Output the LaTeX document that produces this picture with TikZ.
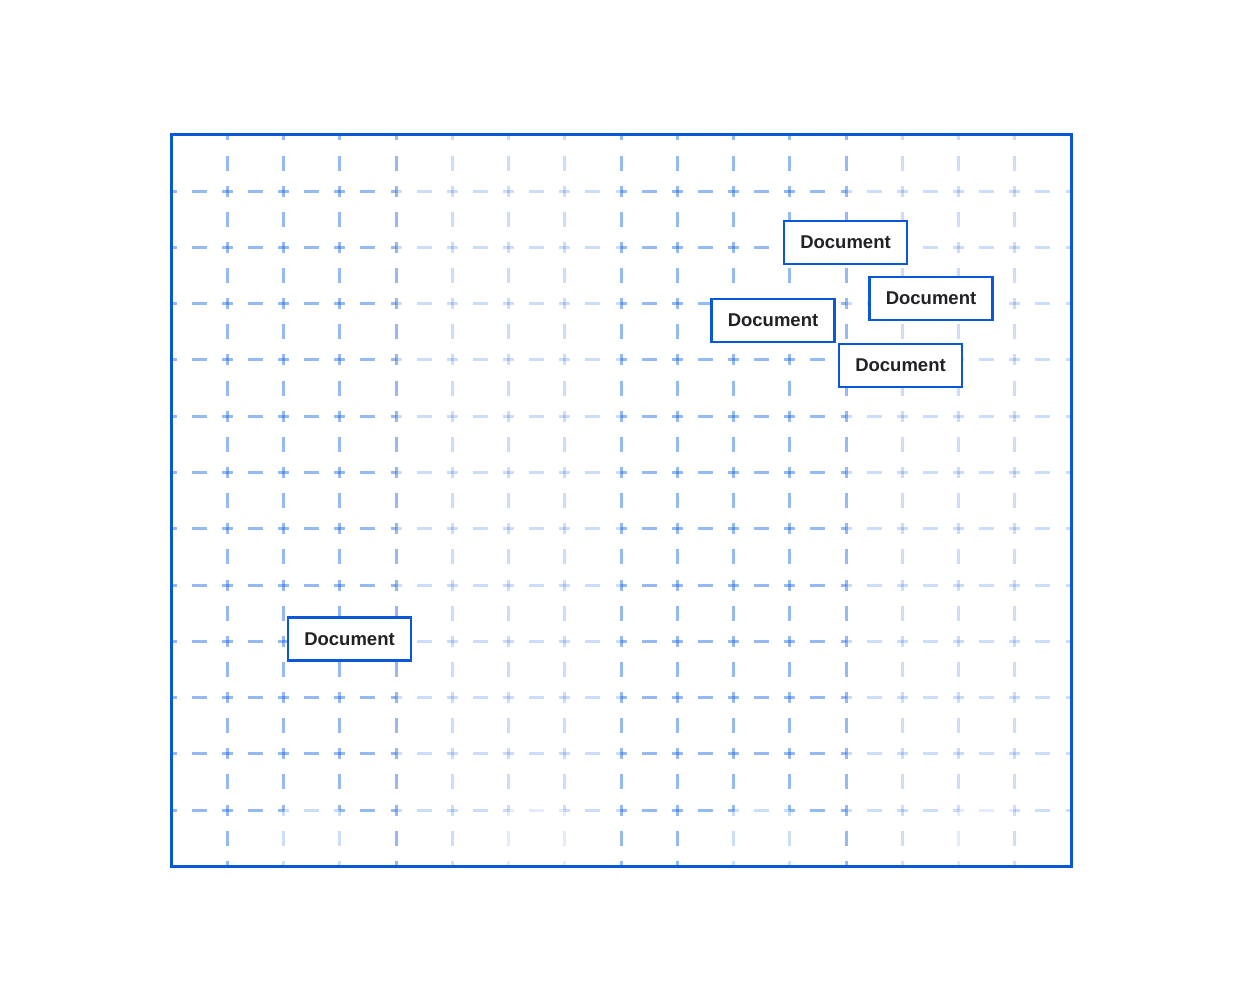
\documentclass[tikz,border=0pt]{standalone}
\usepackage{fontspec}
\setsansfont{Liberation Sans}
\definecolor{gridblue}{RGB}{22,98,228}
\definecolor{frameblue}{RGB}{10,88,218}
\definecolor{txt}{RGB}{34,34,38}
\tikzset{
  gridline/.style={draw=gridblue, line width=3, dash pattern=on 11 off 15.125 on 15 off 15.125, dash phase=5.5},
  frame/.style={draw=frameblue, line width=3},
  docbox/.style={draw=frameblue, line width=2.8, fill=white, minimum width=123, minimum height=43, inner sep=0,
    font=\sffamily\bfseries\fontsize{18.5}{20}\selectfont, text=txt}
}
\begin{document}
\begin{tikzpicture}[x=1pt,y=-1pt]
\useasboundingbox (0,0) rectangle (1243,1000);
% vertical grid lines
\foreach \k/\op/\opb in {1/.45/.45, 2/.45/.22, 3/.45/.22, 4/.45/.45, 5/.22/.22, 6/.22/.12, 7/.22/.12, 8/.45/.45,
  9/.45/.45, 10/.45/.22, 11/.45/.22, 12/.45/.45, 13/.22/.22, 14/.22/.12, 15/.22/.22}{
  \pgfmathsetmacro\xx{171+56.25*\k}
  \draw[gridline, draw opacity=\op] (\xx,135) -- (\xx,810);
  \draw[gridline, draw opacity=\opb] (\xx,810) -- (\xx,866);
}
% horizontal grid lines
\foreach \j in {1,...,11}{
  \pgfmathsetmacro\yy{135+56.25*\j}
  \foreach \c/\op in {0/.45, 1/.45, 2/.45, 3/.45, 4/.22, 5/.22, 6/.22, 7/.22, 8/.45, 9/.45, 10/.45, 11/.45,
    12/.22, 13/.22, 14/.22, 15/.22}{
    \pgfmathsetmacro\xa{171+56.25*\c}
    \pgfmathsetmacro\xb{171+56.25*(\c+1)}
    \draw[gridline, draw opacity=\op] (\xa,\yy) -- (\xb,\yy);
  }
}
\foreach \c/\op in {0/.45, 1/.45, 2/.22, 3/.45, 4/.22, 5/.22, 6/.12, 7/.22, 8/.45, 9/.45, 10/.22, 11/.45,
    12/.22, 13/.22, 14/.12, 15/.22}{
  \pgfmathsetmacro\xa{171+56.25*\c}
  \pgfmathsetmacro\xb{171+56.25*(\c+1)}
  \draw[gridline, draw opacity=\op] (\xa,810) -- (\xb,810);
}
% frame
\draw[frame] (171,135) rectangle (1071,866);
% documents
\node[docbox] (d1) at (845.5,242.5) {Document};
\node[docbox] (d2) at (931,298.5) {Document};
\node[docbox] (d3) at (773,320.5) {Document};
\node[docbox] (d4) at (900.5,365.5) {Document};
\node[docbox] (d5) at (349.5,639) {Document};
\end{tikzpicture}
\end{document}
